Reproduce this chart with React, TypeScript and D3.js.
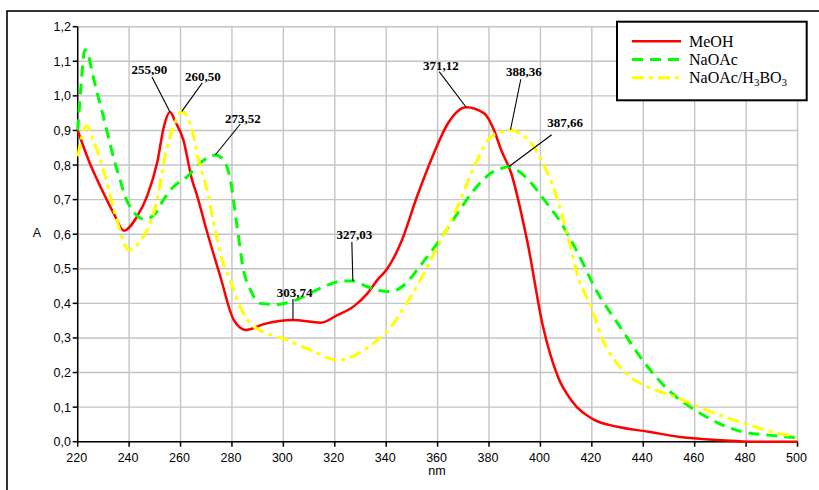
import React from "react";
import * as d3 from "d3";

// ---------- DATA ----------
const meohNm = [220, 225, 229, 234, 238, 243, 247, 251, 253.5, 255.9, 258, 261, 264.5, 266.5, 270, 275.5, 280.7, 285.3, 292.4, 303.74, 314.5, 321, 327.5, 332.7, 336.6, 340.4, 345.7, 352, 358.6, 364, 371.12, 378, 382, 384.7, 388.6, 395, 401, 406.8, 412, 421, 430, 442, 453.6, 462.7, 475.6, 482, 500];
const meohA = [0.9, 0.8, 0.735, 0.66, 0.61, 0.65, 0.71, 0.81, 0.91, 0.953, 0.925, 0.875, 0.757, 0.71, 0.615, 0.477, 0.352, 0.323, 0.34, 0.352, 0.344, 0.366, 0.392, 0.429, 0.468, 0.5, 0.575, 0.709, 0.835, 0.92, 0.967, 0.95, 0.9, 0.844, 0.777, 0.575, 0.333, 0.188, 0.12, 0.063, 0.043, 0.029, 0.0145, 0.008, 0.002, 0, 0];

const naoacNm = [220, 221.2, 222.8, 224, 226, 230, 234.5, 236.5, 238.4, 241.7, 246, 250.2, 253.4, 256.7, 262.5, 267.7, 273.52, 276.7, 279.4, 282, 284.5, 287.2, 291.1, 297.5, 304, 314.5, 323.6, 327.03, 332.7, 337.2, 341.8, 347, 353.5, 360, 367.8, 374.2, 380.8, 384.7, 387.66, 391, 396.4, 401.5, 408, 414.5, 422.3, 430, 440.5, 451, 460, 469.2, 478.3, 488.7, 497.8, 500];
const naoacA = [0.9, 1.02, 1.133, 1.12, 1.056, 0.94, 0.806, 0.757, 0.71, 0.665, 0.643, 0.66, 0.7, 0.733, 0.766, 0.806, 0.829, 0.815, 0.757, 0.622, 0.497, 0.439, 0.4, 0.397, 0.407, 0.444, 0.465, 0.465, 0.448, 0.437, 0.434, 0.453, 0.511, 0.575, 0.661, 0.728, 0.777, 0.79, 0.795, 0.785, 0.748, 0.699, 0.633, 0.546, 0.43, 0.343, 0.228, 0.141, 0.092, 0.054, 0.029, 0.019, 0.013, 0.012];

const boricNm = [220, 223.5, 226, 230, 232.6, 234.3, 237.2, 239.7, 243.6, 246.9, 249.5, 251.5, 253.4, 257.3, 260.5, 264.5, 267, 270.3, 272.9, 276, 279.3, 283.2, 288.5, 301.5, 310.6, 321, 331.4, 336.6, 339, 349.6, 360, 367.8, 374.2, 380.8, 384.7, 388.36, 391, 396.4, 400.3, 405.4, 410.7, 415, 419.8, 423.7, 430.2, 436.7, 443.2, 452.3, 461.4, 473, 483.4, 492.6, 499];
const boricA = [0.825, 0.913, 0.873, 0.786, 0.713, 0.665, 0.593, 0.554, 0.574, 0.612, 0.661, 0.72, 0.805, 0.911, 0.955, 0.9, 0.815, 0.728, 0.632, 0.53, 0.468, 0.39, 0.333, 0.294, 0.265, 0.236, 0.265, 0.294, 0.309, 0.42, 0.564, 0.68, 0.795, 0.882, 0.895, 0.902, 0.895, 0.864, 0.815, 0.728, 0.593, 0.468, 0.39, 0.304, 0.222, 0.178, 0.154, 0.13, 0.101, 0.068, 0.043, 0.024, 0.016];

const seriesNames = ["MeOH", "NaOAc", "NaOAc/H3BO3"];

const xTickValues = [220, 240, 260, 280, 300, 320, 340, 360, 380, 400, 420, 440, 460, 480, 500];
const yTickValues = [0, 0.1, 0.2, 0.3, 0.4, 0.5, 0.6, 0.7, 0.8, 0.9, 1.0, 1.1, 1.2];

const peakLabels = ["255,90", "260,50", "273,52", "303,74", "327,03", "371,12", "388,36", "387,66"];
const peakNm = [255.9, 260.5, 273.52, 303.74, 327.03, 371.12, 388.36, 387.66];
const peakA = [0.953, 0.955, 0.829, 0.352, 0.465, 0.967, 0.902, 0.795];

// ---------- LAYOUT ----------
const W = 819;
const H = 490;
const plot = { left: 77.7, right: 797.5, top: 26.7, bottom: 441.7 };
// leader start offset from the point, and label offset from the leader start
const leaderOffsets: [number, number][] = [
  [-18, -35], [20.5, -28.5], [25, -31], [0, -21], [-1, -39], [-27, -35.6], [10.3, -50.5], [43, -32],
];
const labelOffsets: [number, number][] = [
  [-2.5, -3], [0.5, -2], [2.5, -1], [1.6, -2], [2.5, -3], [1.7, -1.7], [3, -3.3], [13.5, -8],
];

const colors = ["#ff0000", "#00ff00", "#ffff00"];
const dashes = ["none", "11,7", "12,5,4,5"];
const widths = [2.5, 3, 3];

export default function App() {
  const x = d3.scaleLinear().domain([220, 500]).range([plot.left, plot.right]);
  const y = d3.scaleLinear().domain([0, 1.2]).range([plot.bottom, plot.top]);
  const line = d3
    .line<[number, number]>()
    .x((d) => x(d[0]))
    .y((d) => y(d[1]))
    .curve(d3.curveMonotoneX);

  const series: [number, number][][] = [
    meohNm.map((n, i) => [n, meohA[i]] as [number, number]),
    naoacNm.map((n, i) => [n, naoacA[i]] as [number, number]),
    boricNm.map((n, i) => [n, boricA[i]] as [number, number]),
  ];

  const fmtY = (v: number) => d3.format(".1f")(v).replace(".", ",");
  const axisFont = "'Liberation Sans', Arial, sans-serif";
  const serif = "'Liberation Serif', 'Times New Roman', serif";

  const legendX0 = 632;
  const legendX1 = 681;
  const legendBase = [46.7, 65, 83.3];

  return (
    <svg
      width={W}
      height={H}
      style={{ position: "absolute", left: 0, top: 0, background: "#fff" }}
    >
      <rect x={0} y={0} width={W} height={H} fill="#fff" />
      {/* outer frame */}
      <rect x={7} y={11} width={840} height={520} fill="none" stroke="#000" strokeWidth={1.6} />

      {/* grid */}
      <g stroke="#c4c4c4" strokeWidth={1.4}>
        {xTickValues.map((t) => (
          <line key={"gx" + t} x1={x(t)} x2={x(t)} y1={plot.top} y2={plot.bottom} />
        ))}
        {yTickValues.map((t) => (
          <line key={"gy" + t} x1={plot.left} x2={plot.right} y1={y(t)} y2={y(t)} />
        ))}
      </g>

      {/* axes */}
      <g stroke="#000" strokeWidth={1.5}>
        <line x1={plot.left} x2={plot.left} y1={plot.top} y2={plot.bottom} />
        <line x1={plot.left} x2={plot.right} y1={plot.bottom} y2={plot.bottom} />
        {yTickValues.map((t) => (
          <line key={"ty" + t} x1={plot.left - 5} x2={plot.left} y1={y(t)} y2={y(t)} />
        ))}
        {xTickValues.map((t) => (
          <line key={"tx" + t} x1={x(t)} x2={x(t)} y1={plot.bottom} y2={plot.bottom + 5} />
        ))}
      </g>
      <g fontFamily={axisFont} fontSize={12.5} fill="#000">
        {yTickValues.map((t) => (
          <text key={"ly" + t} x={71} y={y(t)} dy="0.36em" textAnchor="end">
            {fmtY(t)}
          </text>
        ))}
        {xTickValues.map((t) => (
          <text key={"lx" + t} x={x(t) - 1} y={462} textAnchor="middle">
            {t}
          </text>
        ))}
        <text x={37} y={237} textAnchor="middle">A</text>
        <text x={437} y={475} textAnchor="middle">nm</text>
      </g>

      {/* curves */}
      {series.map((s, i) => (
        <path
          key={"s" + i}
          d={line(s) || ""}
          fill="none"
          stroke={colors[i]}
          strokeWidth={widths[i]}
          strokeDasharray={dashes[i]}
          strokeLinejoin="round"
        />
      ))}

      {/* annotations */}
      <g>
        {peakLabels.map((lab, i) => {
          const px = x(peakNm[i]);
          const py = y(peakA[i]);
          const lx = px + leaderOffsets[i][0];
          const ly = py + leaderOffsets[i][1];
          return (
            <g key={"a" + i}>
              <line x1={px} y1={py} x2={lx} y2={ly} stroke="#000" strokeWidth={1.1} />
              <text
                x={lx + labelOffsets[i][0]}
                y={ly + labelOffsets[i][1]}
                textAnchor="middle"
                fontFamily={serif}
                fontWeight="bold"
                fontSize={13}
                fill="#000"
              >
                {lab}
              </text>
            </g>
          );
        })}
      </g>

      {/* legend */}
      <rect x={617} y={21.7} width={189.7} height={78.6} fill="#fff" stroke="#000" strokeWidth={2} />
      {seriesNames.map((name, i) => (
        <g key={"lg" + i}>
          <line
            x1={legendX0}
            x2={legendX1}
            y1={legendBase[i] - 5.5}
            y2={legendBase[i] - 5.5}
            stroke={colors[i]}
            strokeWidth={widths[i]}
            strokeDasharray={dashes[i]}
          />
          <text x={689} y={legendBase[i]} fontFamily={serif} fontSize={16} fill="#000">
            {name === "NaOAc/H3BO3" ? (
              <>
                NaOAc/H
                <tspan fontSize={11} dy={3}>3</tspan>
                <tspan dy={-3}>BO</tspan>
                <tspan fontSize={11} dy={3}>3</tspan>
              </>
            ) : (
              name
            )}
          </text>
        </g>
      ))}
    </svg>
  );
}
